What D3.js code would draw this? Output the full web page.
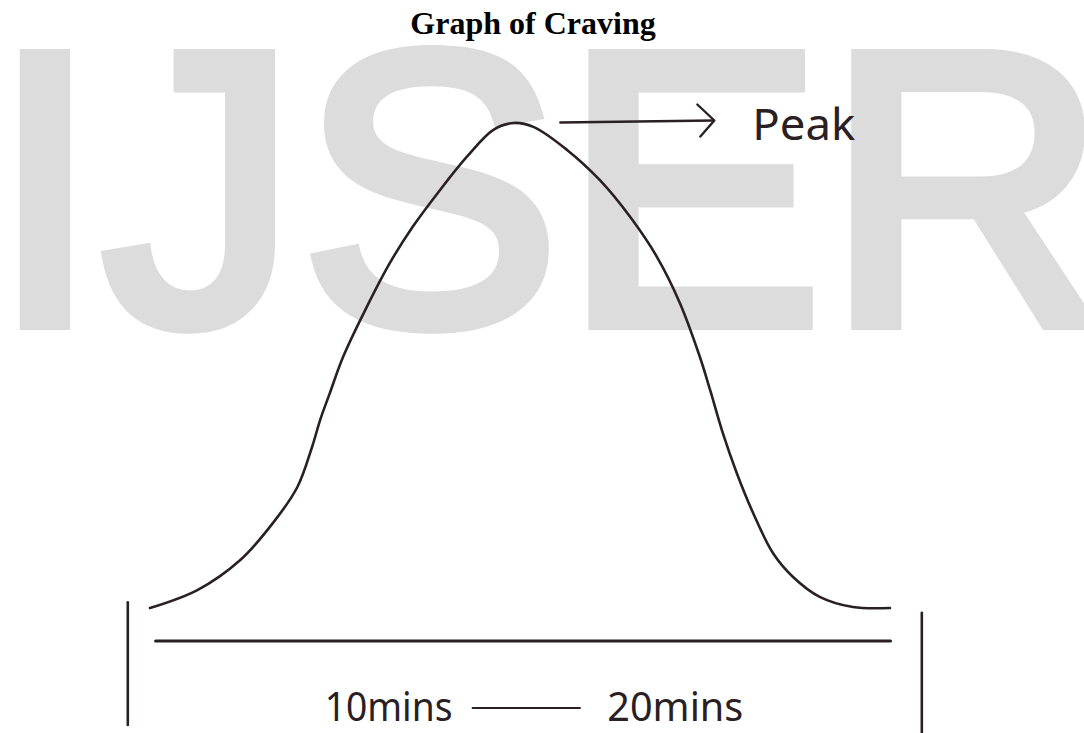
<!DOCTYPE html>
<html>
<head>
<meta charset="utf-8">
<script src="https://cdn.jsdelivr.net/npm/d3@7"></script>
<style>
  body { margin: 0; background: #fff; }
  svg { display: block; }
</style>
</head>
<body>
<script>
// curve readings, x = share of the drawn span (0-100), y = craving (0 = base, 100 = peak)
var timeValues    = [0, 6.4, 12.2, 16.6, 19.9, 21.9, 23.0, 24.3, 26.1, 29.3, 32.4, 35.5, 39.2, 42.8, 46.4, 49.1,
                     51.8, 56.4, 60.8, 64.9, 68.5, 71.6, 74.3, 75.7, 77.4, 79.3, 81.5, 84.2, 86.9, 90.5, 95.0, 100];
var cravingValues = [0, 3.7, 9.9, 17.5, 24.9, 33.2, 38.8, 44.3, 51.8, 62.1, 71.1, 78.6, 86.2, 93.0, 98.6, 100,
                     99.2, 94.4, 88.2, 80.6, 72.4, 62.9, 51.8, 44.9, 36.1, 27.8, 19.6, 11.3, 6.4, 2.3, 0.2, 0];

var spanLabels = ["10mins", "20mins"];
var spanLabelX = [23.6, 61.8];
var peakLabel = "Peak";
var titleText = "Graph of Craving";
var watermarkText = "IJSER";

// end bars: x, top, bottom (same units as the curve)
var barX      = [-3.0, 104.3];
var barTop    = [1.2, -1.0];
var barBottom = [-24.1, -26.5];

var width = 1084, height = 733;
var margin = {left: 150, right: 194, top: 123, bottom: 125};

var x = d3.scaleLinear()
          .domain([0, 100])
          .range([margin.left, width - margin.right]);

var y = d3.scaleLinear()
          .domain([0, 100])
          .range([height - margin.bottom, margin.top]);

var ink = "#2a2024";

var svg = d3.select("body")
            .append("svg")
            .attr("width", width)
            .attr("height", height);

// watermark behind everything (stroke thickens the glyphs)
svg.append("text")
   .attr("x", -9)
   .attr("y", 323)
   .attr("font-family", "Arial, 'Liberation Sans', sans-serif")
   .attr("font-size", 388)
   .attr("letter-spacing", 4)
   .attr("fill", "#dcdcdc")
   .attr("stroke", "#dcdcdc")
   .attr("stroke-width", 14)
   .attr("stroke-linejoin", "miter")
   .text(watermarkText);

svg.append("text")
   .attr("x", 533)
   .attr("y", 34)
   .attr("text-anchor", "middle")
   .attr("font-family", "'Liberation Serif', 'Times New Roman', serif")
   .attr("font-weight", "bold")
   .attr("font-size", 32)
   .attr("fill", "#000")
   .text(titleText);

var points = timeValues.map((t, i) => ({t: t, v: cravingValues[i]}));

var line = d3.line()
             .x(d => x(d.t))
             .y(d => y(d.v))
             .curve(d3.curveCatmullRom.alpha(0.5));

svg.append("path")
   .datum(points)
   .attr("d", line)
   .attr("fill", "none")
   .attr("stroke", ink)
   .attr("stroke-width", 2.6)
   .attr("stroke-linecap", "round");

// baseline drawn as an axis without ticks
let axisScale = d3.scaleLinear()
                  .domain([0.7, 100])
                  .range([x(0.7), x(100)]);

let xAxis = d3.axisBottom(axisScale).tickValues([]).tickSizeOuter(0);

svg.append("g")
   .attr("class", "x axis")
   .attr("transform", "translate(0," + y(-6.7) + ")")
   .call(xAxis)
   .select(".domain")
   .attr("stroke", ink)
   .attr("stroke-width", 3.2)
   .attr("stroke-linecap", "round");

svg.selectAll("line.bar")
   .data(barX).enter()
   .append("line")
   .attr("class", "bar")
   .attr("x1", d => x(d))
   .attr("x2", d => x(d))
   .attr("y1", (d, i) => y(barTop[i]))
   .attr("y2", (d, i) => y(barBottom[i]))
   .attr("stroke", ink)
   .attr("stroke-width", 2.6)
   .attr("stroke-linecap", "round");

// span labels and the dash between them
svg.selectAll("text.span")
   .data(spanLabels).enter()
   .append("text")
   .attr("class", "span")
   .attr("x", (d, i) => x(spanLabelX[i]))
   .attr("y", y(-23.3))
   .attr("font-family", "'Noto Sans', 'DejaVu Sans', sans-serif")
   .attr("font-size", 40)
   .attr("textLength", (d, i) => i == 0 ? 128 : 136)
   .attr("lengthAdjust", "spacingAndGlyphs")
   .attr("fill", ink)
   .text(d => d);

svg.append("line")
   .attr("x1", x(43.6))
   .attr("x2", x(58.1))
   .attr("y1", y(-20.6))
   .attr("y2", y(-20.6))
   .attr("stroke", ink)
   .attr("stroke-width", 2)
   .attr("stroke-linecap", "round");

// peak arrow and label
var peakI = cravingValues.indexOf(d3.max(cravingValues));
var arrowY = y(cravingValues[peakI]) - 0.5;
var arrowStart = x(timeValues[peakI]) + 47;
var arrowEnd = arrowStart + 153;

svg.append("line")
   .attr("x1", arrowStart)
   .attr("x2", arrowEnd)
   .attr("y1", arrowY)
   .attr("y2", arrowY - 2)
   .attr("stroke", ink)
   .attr("stroke-width", 2.4)
   .attr("stroke-linecap", "round");

svg.append("path")
   .attr("d", "M" + (arrowEnd - 16) + "," + (arrowY - 18) +
              "L" + (arrowEnd + 1) + "," + (arrowY - 2) +
              "L" + (arrowEnd - 13) + "," + (arrowY + 14))
   .attr("fill", "none")
   .attr("stroke", ink)
   .attr("stroke-width", 2.4)
   .attr("stroke-linecap", "round")
   .attr("stroke-linejoin", "round");

svg.append("text")
   .attr("x", arrowEnd + 39)
   .attr("y", arrowY + 17)
   .attr("font-family", "'Noto Sans', 'DejaVu Sans', sans-serif")
   .attr("font-size", 44)
   .attr("textLength", 103)
   .attr("lengthAdjust", "spacingAndGlyphs")
   .attr("fill", ink)
   .text(peakLabel);
</script>
</body>
</html>
